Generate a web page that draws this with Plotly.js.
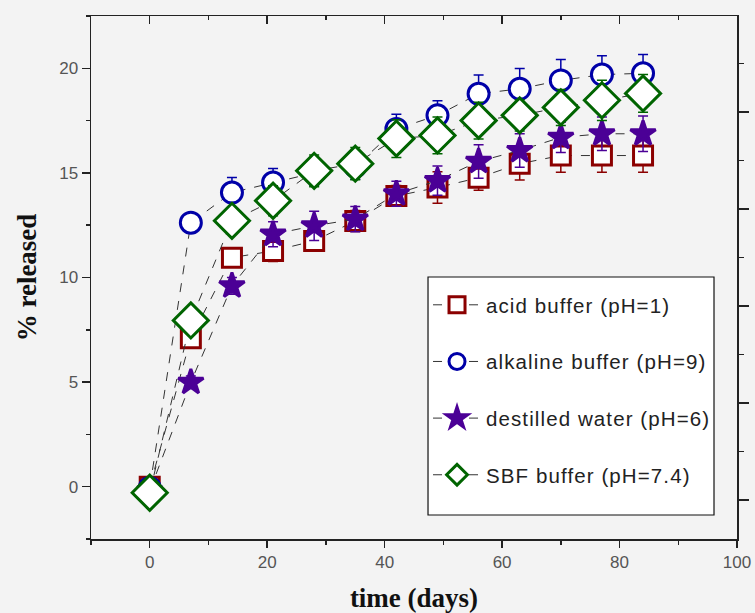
<!DOCTYPE html>
<html>
<head>
<meta charset="utf-8">
<script src="https://cdn.plot.ly/plotly-3.0.1.min.js"></script>
<style>
  html, body { margin: 0; padding: 0; background: #f3f3f3; }
  #chart { width: 755px; height: 613px; }
  .legendtext { letter-spacing: 1.1px; }
</style>
</head>
<body>
<div id="chart"></div>
<script>
// ---- data ----
const days = [0, 7, 14, 21, 28, 35, 42, 49, 56, 63, 70, 77, 84];

const acidName = "acid buffer (pH=1)";
const acid     = [0.0, 7.1, 10.95, 11.27, 11.75, 12.7, 13.9, 14.3, 14.77, 15.44, 15.83, 15.83, 15.83];
const acidErr  = [0.2, 0.3, 0.4, 0.5, 0.5, 0.5, 0.5, 0.75, 0.6, 0.78, 0.8, 0.8, 0.8];

const alkName  = "alkaline buffer (pH=9)";
const alkaline = [-0.05, 12.62, 14.06, 14.54, 15.0, 15.3, 17.1, 17.75, 18.78, 19.02, 19.42, 19.7, 19.76];
const alkErr   = [0.2, 0.3, 0.72, 0.67, 0.6, 0.6, 0.7, 0.7, 0.9, 0.97, 1.0, 0.9, 0.9];

const waterName = "destilled water (pH=6)";
const water     = [-0.2, 4.99, 9.6, 12.07, 12.47, 12.79, 14.0, 14.63, 15.55, 16.07, 16.7, 16.87, 16.87];
const waterErr  = [0.2, 0.3, 0.4, 0.6, 0.7, 0.6, 0.6, 0.7, 0.8, 0.8, 0.72, 0.8, 0.85];

const sbfName = "SBF buffer (pH=7.4)";
const sbf     = [-0.29, 7.95, 12.71, 13.67, 15.1, 15.44, 16.64, 16.79, 17.5, 17.75, 18.13, 18.47, 18.8];
const sbfErr  = [0.2, 0.3, 0.5, 0.72, 0.76, 0.77, 0.9, 0.88, 0.88, 0.75, 0.86, 0.96, 0.9];

const xTickVals = [0, 20, 40, 60, 80, 100];
const yTickVals = [0, 5, 10, 15, 20];

// ---- styling ----
function series(name, y, err, color, symbol, size, fill, group) {
  return {
    type: "scatter", mode: "lines+markers", name: name, x: days, y: y,
    legendgroup: group,
    line: { color: "#333333", width: 1, dash: "dash" },
    marker: { symbol: symbol, size: size, color: fill, line: { color: color, width: 3 } },
    error_y: { type: "data", array: err, visible: true, color: color, thickness: 1.5, width: 5 }
  };
}

const traces = [
  series(acidName, acid, acidErr, "#8b0000", "square", 19, "#ffffff", "g1"),
  series(alkName, alkaline, alkErr, "#0000a8", "circle", 21, "#ffffff", "g2"),
  series(waterName, water, waterErr, "#4b0096", "star", 19, "#4b0096", "g3"),
  series(sbfName, sbf, sbfErr, "#006400", "diamond", 27, "#ffffff", "g4"),
  { type: "scatter", x: [], y: [], xaxis: "x2", yaxis: "y2", showlegend: false, hoverinfo: "skip" }
];

const axisCol = "#222222";
const tickFont = { family: "Liberation Sans, Arial, sans-serif", size: 17, color: "#555555" };
const titleFont = { family: "Liberation Serif, Times New Roman, serif", size: 27, color: "#111111", weight: "bold" };

const layout = {
  width: 755, height: 613,
  margin: { l: 91, r: 18, t: 16, b: 74 },
  paper_bgcolor: "#f3f3f3",
  plot_bgcolor: "#f3f3f3",
  showlegend: true,
  shapes: [{
    type: "rect", xref: "paper", yref: "paper",
    x0: 0.5217, x1: 0.9644, y0: 0.0459, y1: 0.501,
    fillcolor: "#ffffff", line: { color: "#111111", width: 1.2 }, layer: "above"
  }],
  legend: {
    x: 0.5217, y: 0.4857, xanchor: "left", yanchor: "top",
    bgcolor: "rgba(0,0,0,0)", borderwidth: 0,
    font: { family: "Liberation Sans, Arial, sans-serif", size: 20.5, color: "#222222" },
    traceorder: "grouped", tracegroupgap: 27, itemwidth: 48
  },
  xaxis: {
    range: [-10, 100], tickvals: xTickVals, ticks: "outside", ticklen: 7, tickwidth: 1.5,
    tickcolor: axisCol, showline: true, linecolor: axisCol, linewidth: 1.5,
    showgrid: false, zeroline: false, tickfont: tickFont,
    minor: { dtick: 10, tick0: 0, ticks: "outside", ticklen: 4, tickcolor: axisCol, showgrid: false },
    title: { text: "time (days)", font: titleFont, standoff: 18 }
  },
  yaxis: {
    range: [-2.5, 22.5], tickvals: yTickVals, ticks: "outside", ticklen: 8, tickwidth: 1.5,
    tickcolor: axisCol, showline: true, linecolor: axisCol, linewidth: 1.5,
    showgrid: false, zeroline: false, tickfont: tickFont,
    minor: { dtick: 2.5, tick0: 0, ticks: "outside", ticklen: 4, tickcolor: axisCol, showgrid: false },
    title: { text: "% released", font: titleFont, standoff: 14 }
  },
  xaxis2: {
    overlaying: "x", side: "top", range: [-10, 100], dtick: 20, tick0: 0,
    ticks: "inside", ticklen: 8, tickwidth: 1.5, tickcolor: axisCol,
    showline: true, linecolor: axisCol, linewidth: 1.5, showticklabels: false,
    showgrid: false, zeroline: false,
    minor: { dtick: 10, tick0: 0, ticks: "inside", ticklen: 4, tickcolor: axisCol, showgrid: false }
  },
  yaxis2: {
    overlaying: "y", side: "right", range: [-0.4, 4.992], dtick: 1, tick0: 0,
    ticks: "outside", ticklen: 10, tickwidth: 1.5, tickcolor: axisCol,
    showline: true, linecolor: axisCol, linewidth: 1.5, showticklabels: false,
    showgrid: false, zeroline: false,
    minor: { dtick: 0.5, tick0: 0, ticks: "outside", ticklen: 5, tickcolor: axisCol, showgrid: false }
  }
};

Plotly.newPlot("chart", traces, layout, { displayModeBar: false, staticPlot: true });
</script>
</body>
</html>
